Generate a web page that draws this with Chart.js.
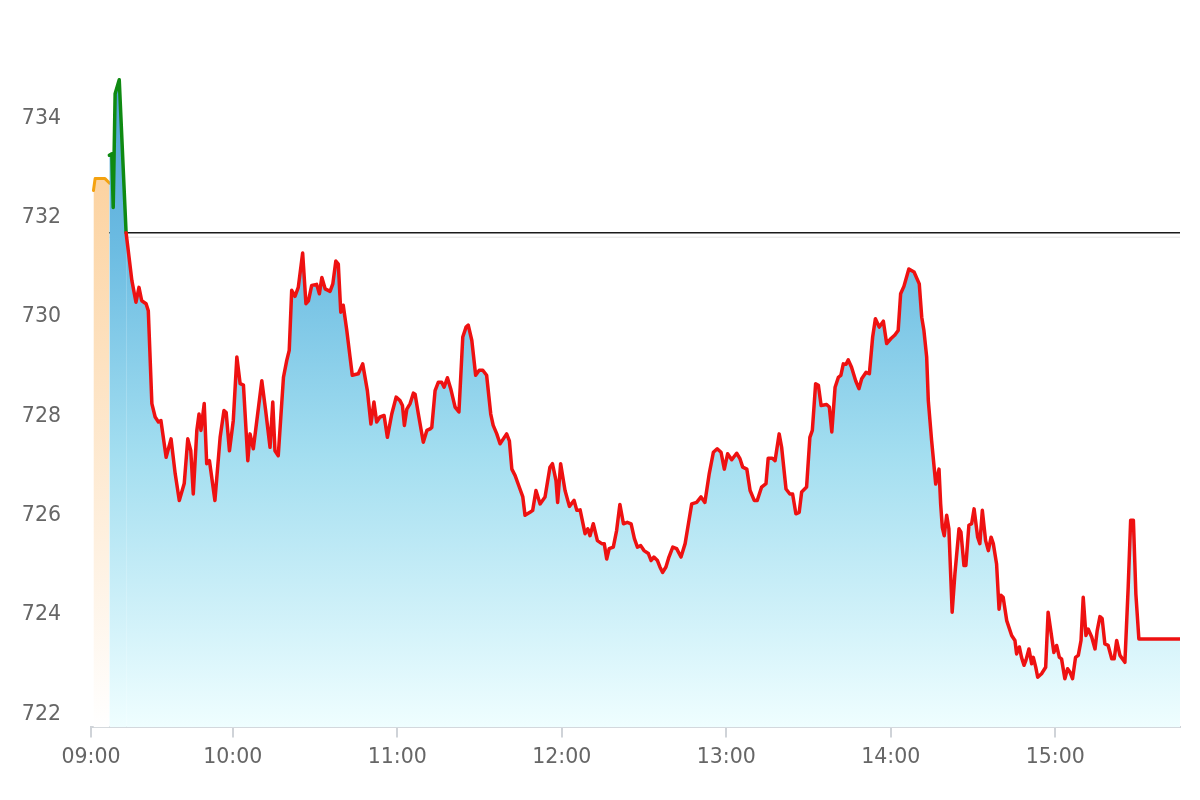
<!DOCTYPE html>
<html>
<head>
<meta charset="utf-8">
<script src="https://cdn.jsdelivr.net/npm/chart.js@4.4.1/dist/chart.umd.min.js"></script>
<style>
  html, body { margin: 0; padding: 0; background: #ffffff; }
  #wrap { width: 1200px; height: 800px; position: relative; }
</style>
</head>
<body>
<div id="wrap"><canvas id="c"></canvas></div>
<script>
// ---- data (x = minutes after 09:00) ----
const orangeTimes  = [9.2, 9.8, 13.4, 15.0];
const orangeValues = [732.55, 732.79, 732.79, 732.70];

const greenTimes  = [15.0, 15.9, 16.4, 17.1, 18.6, 21.1];
const greenValues = [733.26, 733.29, 732.21, 734.50, 734.78, 731.70];

const redTimes = [
  21.1,23.2,24.7,25.8,26.8,28.4,29.2,30.5,31.7,32.9,33.8,35.7,37.5,39.0,40.5,42.3,43.6,44.7,45.6,46.9,
  47.7,48.4,49.6,50.5,51.5,53.5,55.4,56.8,57.6,58.8,60.2,61.5,62.7,63.9,65.5,66.3,67.5,70.6,72.0,73.6,
  74.6,75.4,76.6,78.5,79.7,80.6,81.5,82.7,83.9,85.5,86.7,87.6,88.8,90.6,91.6,92.5,93.7,95.5,96.5,97.6,
  98.5,99.4,100.3,101.6,102.8,103.6,105.8,107.4,109.1,110.4,111.5,112.5,113.7,115.2,116.4,118.0,119.6,121.0,121.9,122.6,
  123.5,124.7,125.9,126.5,127.7,129.5,130.8,132.0,132.6,133.8,135.0,136.2,137.1,138.3,139.5,141.1,142.5,143.9,145.1,145.9,
  147.2,148.6,149.9,151.2,152.6,154.1,155.0,156.3,157.5,158.7,159.9,160.9,161.8,163.0,164.5,165.8,166.6,168.4,169.4,170.6,
  172.1,173.9,175.7,176.6,177.9,178.5,179.6,181.2,182.8,184.5,185.5,186.7,188.5,189.5,190.3,191.5,193.0,194.6,195.5,196.4,
  197.3,198.8,200.0,201.2,202.5,203.9,205.3,206.5,207.6,208.8,210.0,211.6,212.6,213.6,214.9,215.8,216.8,218.0,219.1,220.5,
  221.9,223.5,225.0,226.2,227.4,229.2,230.8,232.2,233.8,235.3,236.7,238.1,239.3,240.5,242.0,243.8,245.0,246.0,247.5,248.7,
  250.2,251.3,252.9,254.5,255.3,256.8,257.8,259.3,260.2,261.8,263.2,264.2,265.4,266.6,267.5,269.3,270.5,271.4,272.6,273.6,
  274.6,276.6,277.6,278.5,279.7,280.9,281.8,282.7,283.7,284.5,285.7,287.2,288.4,289.4,291.0,292.2,293.4,294.4,295.8,297.3,
  298.5,300.1,301.5,302.7,303.6,304.8,306.6,308.5,310.4,311.3,312.1,313.1,313.7,314.9,316.4,317.6,318.2,318.8,319.5,320.4,
  321.2,322.4,323.4,324.9,325.6,326.7,327.4,328.5,329.5,330.4,331.7,332.5,333.4,334.6,335.6,336.6,337.4,338.6,339.5,340.2,
  341.0,342.3,344.1,345.3,345.9,346.9,347.7,348.6,349.3,350.4,351.4,352.0,352.9,353.6,355.0,356.5,357.4,358.7,359.5,360.5,
  361.5,362.3,363.5,364.5,365.4,366.3,367.4,368.4,369.4,370.2,371.2,372.0,373.3,374.5,375.3,376.3,377.1,378.1,379.3,380.6,
  381.5,382.4,383.6,385.4,386.6,387.5,388.5,389.4,390.5,405.5
];
const redValues = [
  731.70,730.74,730.30,730.60,730.33,730.27,730.13,728.26,727.99,727.89,727.92,727.18,727.55,726.85,726.31,726.65,727.55,727.31,726.44,727.72,
  728.05,727.72,728.26,727.05,727.11,726.31,727.58,728.12,728.08,727.31,727.92,729.20,728.66,728.63,727.11,727.65,727.35,728.72,728.12,727.38,
  728.29,727.31,727.21,728.79,729.13,729.33,730.54,730.42,730.60,731.29,730.27,730.33,730.64,730.66,730.47,730.80,730.57,730.52,730.67,731.13,
  731.07,730.10,730.24,729.73,729.19,728.83,728.86,729.06,728.52,727.85,728.29,727.89,727.99,728.02,727.58,728.05,728.39,728.32,728.22,727.82,
  728.15,728.26,728.47,728.45,728.05,727.48,727.72,727.75,727.78,728.52,728.69,728.69,728.59,728.78,728.56,728.19,728.09,729.60,729.80,729.84,
  729.53,728.83,728.93,728.93,728.83,728.05,727.82,727.65,727.45,727.55,727.65,727.51,726.94,726.81,726.58,726.38,726.01,726.07,726.11,726.51,
  726.24,726.38,726.98,727.05,726.71,726.27,727.05,726.51,726.19,726.31,726.11,726.12,725.64,725.74,725.60,725.84,725.50,725.44,725.44,725.13,
  725.34,725.37,725.70,726.23,725.84,725.87,725.84,725.54,725.37,725.40,725.30,725.24,725.10,725.17,725.10,724.97,724.86,724.97,725.17,725.37,
  725.34,725.17,725.44,725.84,726.24,726.27,726.38,726.27,726.85,727.28,727.35,727.28,726.94,727.25,727.13,727.26,727.15,726.98,726.94,726.51,
  726.31,726.31,726.58,726.65,727.16,727.16,727.11,727.65,727.38,726.54,726.44,726.44,726.04,726.07,726.48,726.58,727.58,727.72,728.66,728.63,
  728.22,728.24,728.19,727.69,728.59,728.79,728.83,729.06,729.05,729.14,728.99,728.72,728.56,728.76,728.89,728.86,729.60,729.97,729.80,729.92,
  729.47,729.57,729.64,729.73,730.47,730.62,730.97,730.91,730.67,730.00,729.73,729.20,728.32,727.52,726.64,726.94,726.24,725.77,725.60,726.01,
  725.74,724.06,724.83,725.74,725.67,725.00,725.00,725.81,725.84,726.14,725.57,725.44,726.11,725.50,725.30,725.57,725.44,725.03,724.12,724.40,
  724.36,723.89,723.59,723.49,723.22,723.36,723.15,722.99,723.09,723.32,723.02,723.15,722.95,722.75,722.82,722.95,724.06,723.56,723.25,723.39,
  723.15,723.12,722.72,722.92,722.85,722.72,723.15,723.19,723.49,724.36,723.59,723.72,723.56,723.32,723.69,723.97,723.93,723.42,723.39,723.12,
  723.12,723.49,723.19,723.05,724.56,725.91,725.91,724.43,723.52,723.52
];

const refLevel = 731.70;
const refStart = 15.0;
const refEnd = 405.5;

const yTicks = [722, 724, 726, 728, 730, 732, 734];
const xTickValues = [8.3, 60, 120, 180, 240, 300, 360];
const xTickLabels = ['09:00', '10:00', '11:00', '12:00', '13:00', '14:00', '15:00'];

// ---- helpers ----
const pts = (xs, ys) => xs.map((x, i) => ({ x: x, y: ys[i] }));

function blueGrad(ctx) {
  const ca = ctx.chart.chartArea;
  if (!ca) return 'rgba(100,180,220,0.8)';
  const g = ctx.chart.ctx.createLinearGradient(0, ca.top, 0, ca.bottom);
  g.addColorStop(0, '#4a9dd3');
  g.addColorStop(0.3, '#6cbce2');
  g.addColorStop(0.6, '#a3def0');
  g.addColorStop(1, '#effeff');
  return g;
}
function peachGrad(ctx) {
  const ca = ctx.chart.chartArea;
  if (!ca) return 'rgba(252,214,166,0.8)';
  const g = ctx.chart.ctx.createLinearGradient(0, ca.top, 0, ca.bottom);
  g.addColorStop(0, '#fccf98');
  g.addColorStop(0.2, '#fcd3a1');
  g.addColorStop(1, '#ffffff');
  return g;
}

const lineBase = { pointRadius: 0, pointHoverRadius: 0, tension: 0, borderJoinStyle: 'round', borderCapStyle: 'round' };

new Chart(document.getElementById('c'), {
  type: 'line',
  data: {
    datasets: [
      Object.assign({}, lineBase, {
        label: 'ref-shadow',
        data: [{ x: refStart, y: refLevel - 0.09 }, { x: refEnd, y: refLevel - 0.09 }],
        borderColor: '#e4e4e4', borderWidth: 1, fill: false, order: 5
      }),
      Object.assign({}, lineBase, {
        label: 'ref',
        data: [{ x: refStart, y: refLevel }, { x: refEnd, y: refLevel }],
        borderColor: '#1a1a1a', borderWidth: 1.6, fill: false, order: 4
      }),
      Object.assign({}, lineBase, {
        label: 'pre',
        data: pts(orangeTimes, orangeValues),
        borderColor: '#f4a210', borderWidth: 3,
        fill: 'start', backgroundColor: peachGrad, order: 3
      }),
      Object.assign({}, lineBase, {
        label: 'open',
        data: pts(greenTimes, greenValues),
        borderColor: '#0f8a12', borderWidth: 3.5,
        fill: 'start', backgroundColor: blueGrad, order: 2
      }),
      Object.assign({}, lineBase, {
        label: 'price',
        data: pts(redTimes, redValues),
        borderColor: '#ee1111', borderWidth: 3.5,
        fill: 'start', backgroundColor: blueGrad, order: 1
      })
    ]
  },
  options: {
    responsive: true,
    maintainAspectRatio: false,
    animation: false,
    events: [],
    layout: { padding: { top: 44, right: 20, left: 21, bottom: 22 } },
    plugins: { legend: { display: false }, tooltip: { enabled: false } },
    scales: {
      x: {
        type: 'linear',
        min: 8.3,
        max: 405.5,
        afterBuildTicks: (s) => { s.ticks = xTickValues.map(v => ({ value: v })); },
        ticks: {
          autoSkip: false,
          maxRotation: 0,
          padding: 8,
          color: '#666666',
          font: { family: 'DejaVu Sans', size: 20.5 },
          callback: (v, i) => xTickLabels[i]
        },
        grid: { drawOnChartArea: false, drawTicks: true, tickLength: 10, color: '#cfd3d8', lineWidth: 2 },
        border: { display: true, color: '#cfd3d8', width: 2 }
      },
      y: {
        type: 'linear',
        min: 721.74,
        max: 735.5,
        afterBuildTicks: (s) => { s.ticks = yTicks.map(v => ({ value: v })); },
        afterFit: (s) => { s.width = 70; },
        ticks: {
          padding: 30,
          color: '#666666',
          font: { family: 'DejaVu Sans', size: 20.5 },
          callback: (v) => String(v)
        },
        grid: { display: false, drawTicks: false },
        border: { display: false }
      }
    }
  }
});
</script>
</body>
</html>
